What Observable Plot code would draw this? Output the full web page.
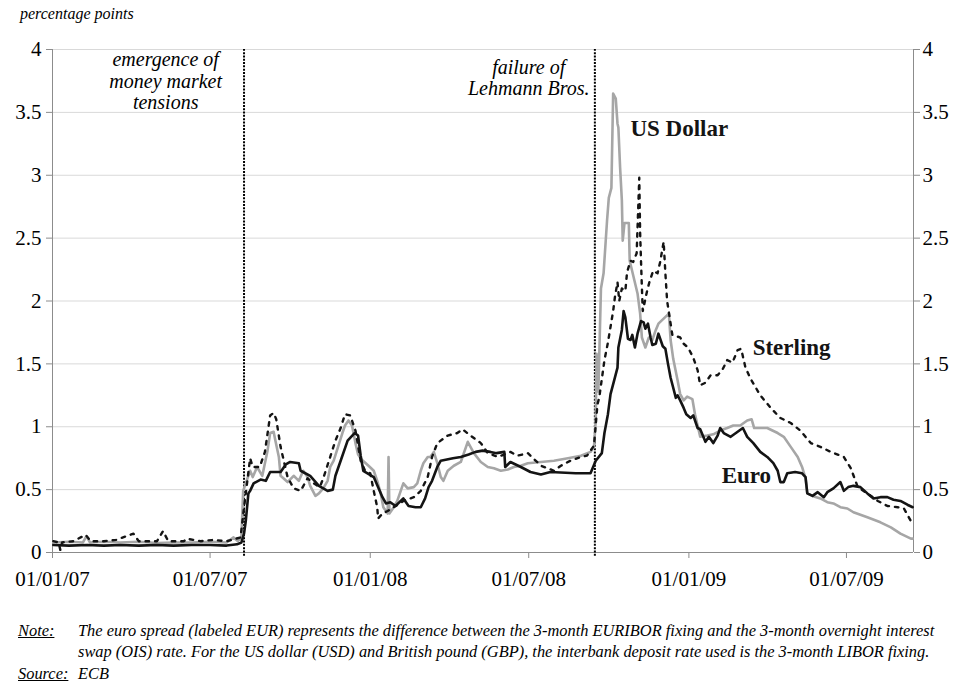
<!DOCTYPE html>
<html><head><meta charset="utf-8">
<script src="https://cdn.jsdelivr.net/npm/d3@7"></script>
<script src="https://cdn.jsdelivr.net/npm/@observablehq/plot@0.6"></script>
<style>
body{margin:0;background:#fff;font-family:"Liberation Serif",serif;}
#wrap{position:relative;width:957px;height:682px;overflow:hidden;}
#sub{position:absolute;left:20px;top:5px;font-style:italic;font-size:16px;}
#chart{position:absolute;left:0;top:0;}
#chart svg, #chart svg text{font-family:"Liberation Serif","Times New Roman",serif !important;}
.note{position:absolute;font-style:italic;font-size:16.4px;white-space:nowrap;}
.u{text-decoration:underline;}
</style></head>
<body>
<div id="wrap">
<div id="chart"></div>
<div id="sub">percentage points</div>
<div class="note u" style="left:18px;top:621px">Note:</div>
<div class="note" style="left:78px;top:621px">The euro spread (labeled EUR) represents the difference between the 3-month EURIBOR fixing and the 3-month overnight interest</div>
<div class="note" style="left:78px;top:642px">swap (OIS) rate. For the US dollar (USD) and British pound (GBP), the interbank deposit rate used is the 3-month LIBOR fixing.</div>
<div class="note u" style="left:18px;top:664px">Source:</div>
<div class="note" style="left:78px;top:664px">ECB</div>
</div>
<script>
const xStart = "2007-01-01", xEnd = "2009-09-16";
const xTicks = ["2007-01-01","2007-07-01","2008-01-01","2008-07-01","2009-01-01","2009-07-01"];
const yTicks = [0,0.5,1,1.5,2,2.5,3,3.5,4];
const gridLines = [0.5,1,1.5,2,2.5,3,3.5,4];
const eventDates = ["2007-08-09","2008-09-15"];
const eventTexts = ["emergence of\nmoney market\ntensions","failure of\nLehmann Bros."];
const eventTextDates = ["2007-05-11","2008-07-01"];
const eventTextY = [3.99, 3.93];
const labelNames = ["US Dollar","Sterling","Euro"];
const labelDates = ["2008-12-21","2009-04-29","2009-03-08"];
const labelY = [3.37,1.63,0.61];

const euro = [["2007-01-02",0.06],["2007-01-20",0.055],["2007-02-10",0.06],["2007-03-01",0.055],["2007-03-20",0.06],["2007-04-10",0.055],["2007-05-01",0.06],["2007-05-20",0.055],["2007-06-10",0.06],["2007-07-01",0.06],["2007-07-20",0.055],["2007-08-01",0.065],["2007-08-06",0.08],["2007-08-09",0.15],["2007-08-11",0.25],["2007-08-14",0.47],["2007-08-16",0.49],["2007-08-20",0.55],["2007-08-28",0.58],["2007-09-03",0.57],["2007-09-08",0.64],["2007-09-20",0.64],["2007-09-26",0.70],["2007-10-01",0.72],["2007-10-11",0.71],["2007-10-13",0.65],["2007-10-24",0.61],["2007-11-03",0.53],["2007-11-13",0.49],["2007-11-19",0.50],["2007-11-22",0.61],["2007-11-28",0.73],["2007-12-06",0.89],["2007-12-14",0.95],["2007-12-18",0.93],["2007-12-21",0.77],["2007-12-24",0.65],["2008-01-05",0.60],["2008-01-15",0.44],["2008-01-19",0.39],["2008-01-24",0.40],["2008-01-30",0.37],["2008-02-08",0.43],["2008-02-14",0.37],["2008-02-22",0.36],["2008-02-28",0.36],["2008-03-04",0.43],["2008-03-08",0.52],["2008-03-12",0.57],["2008-03-18",0.68],["2008-03-22",0.73],["2008-04-05",0.75],["2008-04-14",0.76],["2008-04-23",0.78],["2008-05-01",0.80],["2008-05-09",0.81],["2008-05-18",0.80],["2008-05-25",0.79],["2008-06-03",0.80],["2008-06-04",0.68],["2008-06-10",0.72],["2008-06-22",0.68],["2008-07-03",0.64],["2008-07-15",0.62],["2008-07-26",0.64],["2008-08-24",0.63],["2008-09-10",0.63],["2008-09-16",0.73],["2008-09-23",0.79],["2008-09-26",0.95],["2008-09-30",1.10],["2008-10-03",1.26],["2008-10-08",1.39],["2008-10-11",1.47],["2008-10-12",1.63],["2008-10-16",1.77],["2008-10-18",1.92],["2008-10-20",1.87],["2008-10-23",1.70],["2008-10-26",1.69],["2008-10-28",1.73],["2008-10-31",1.63],["2008-11-03",1.74],["2008-11-07",1.84],["2008-11-10",1.83],["2008-11-12",1.78],["2008-11-15",1.82],["2008-11-18",1.71],["2008-11-20",1.65],["2008-11-24",1.66],["2008-11-27",1.74],["2008-12-02",1.64],["2008-12-05",1.62],["2008-12-08",1.50],["2008-12-11",1.39],["2008-12-14",1.31],["2008-12-17",1.23],["2008-12-19",1.25],["2008-12-22",1.21],["2008-12-26",1.15],["2008-12-29",1.10],["2009-01-03",1.07],["2009-01-06",1.09],["2009-01-11",0.99],["2009-01-14",0.98],["2009-01-20",0.88],["2009-01-24",0.92],["2009-01-29",0.87],["2009-02-03",0.93],["2009-02-06",0.99],["2009-02-10",0.95],["2009-02-18",0.92],["2009-02-24",0.95],["2009-03-04",0.99],["2009-03-09",0.92],["2009-03-16",0.87],["2009-03-24",0.80],["2009-04-01",0.76],["2009-04-08",0.71],["2009-04-13",0.65],["2009-04-16",0.56],["2009-04-20",0.56],["2009-04-24",0.63],["2009-05-03",0.64],["2009-05-11",0.63],["2009-05-15",0.60],["2009-05-17",0.47],["2009-05-23",0.45],["2009-05-29",0.48],["2009-06-05",0.44],["2009-06-09",0.48],["2009-06-16",0.51],["2009-06-24",0.56],["2009-06-28",0.49],["2009-07-03",0.52],["2009-07-09",0.53],["2009-07-17",0.52],["2009-07-25",0.47],["2009-08-01",0.43],["2009-08-09",0.44],["2009-08-17",0.44],["2009-08-24",0.42],["2009-09-01",0.41],["2009-09-09",0.38],["2009-09-15",0.36]];

const usd = [["2007-01-02",0.08],["2007-01-20",0.085],["2007-02-05",0.08],["2007-02-09",0.13],["2007-02-13",0.08],["2007-03-01",0.085],["2007-03-20",0.08],["2007-04-10",0.085],["2007-05-01",0.075],["2007-05-20",0.08],["2007-06-10",0.08],["2007-07-01",0.085],["2007-07-20",0.08],["2007-07-28",0.12],["2007-08-02",0.09],["2007-08-06",0.12],["2007-08-08",0.49],["2007-08-16",0.65],["2007-08-19",0.60],["2007-08-24",0.68],["2007-08-30",0.61],["2007-09-05",0.81],["2007-09-08",0.95],["2007-09-12",0.96],["2007-09-14",0.89],["2007-09-18",0.76],["2007-09-20",0.61],["2007-09-28",0.56],["2007-10-05",0.61],["2007-10-11",0.57],["2007-10-16",0.65],["2007-10-21",0.60],["2007-10-24",0.53],["2007-10-30",0.45],["2007-11-03",0.47],["2007-11-08",0.51],["2007-11-13",0.57],["2007-11-16",0.68],["2007-11-20",0.73],["2007-11-25",0.84],["2007-11-30",0.95],["2007-12-03",1.01],["2007-12-07",1.05],["2007-12-11",1.01],["2007-12-15",0.87],["2007-12-18",0.78],["2007-12-22",0.74],["2007-12-30",0.69],["2008-01-05",0.65],["2008-01-09",0.57],["2008-01-13",0.47],["2008-01-16",0.36],["2008-01-21",0.31],["2008-01-22",0.76],["2008-01-23",0.31],["2008-01-28",0.36],["2008-02-01",0.41],["2008-02-05",0.49],["2008-02-08",0.55],["2008-02-13",0.51],["2008-02-20",0.52],["2008-02-24",0.55],["2008-02-28",0.65],["2008-03-02",0.71],["2008-03-07",0.76],["2008-03-10",0.76],["2008-03-14",0.80],["2008-03-18",0.71],["2008-03-22",0.60],["2008-03-25",0.57],["2008-03-30",0.65],["2008-04-06",0.69],["2008-04-14",0.72],["2008-04-22",0.88],["2008-04-29",0.79],["2008-05-07",0.72],["2008-05-15",0.68],["2008-05-22",0.67],["2008-05-30",0.65],["2008-06-07",0.66],["2008-06-14",0.68],["2008-06-22",0.69],["2008-06-30",0.71],["2008-07-15",0.72],["2008-07-30",0.73],["2008-08-15",0.75],["2008-08-30",0.77],["2008-09-10",0.80],["2008-09-14",0.84],["2008-09-16",1.05],["2008-09-17",1.58],["2008-09-19",1.28],["2008-09-22",2.10],["2008-09-25",2.22],["2008-09-29",2.64],["2008-10-01",2.82],["2008-10-04",2.90],["2008-10-06",3.65],["2008-10-09",3.61],["2008-10-11",3.41],["2008-10-12",3.38],["2008-10-14",3.06],["2008-10-16",2.80],["2008-10-17",2.48],["2008-10-19",2.62],["2008-10-24",2.62],["2008-10-25",2.32],["2008-11-03",2.06],["2008-11-06",1.90],["2008-11-08",1.71],["2008-11-12",1.63],["2008-11-16",1.71],["2008-11-20",1.69],["2008-11-24",1.77],["2008-11-27",1.82],["2008-12-03",1.86],["2008-12-09",1.90],["2008-12-11",1.69],["2008-12-14",1.54],["2008-12-19",1.37],["2008-12-22",1.26],["2008-12-26",1.21],["2008-12-30",1.24],["2009-01-05",1.22],["2009-01-08",1.10],["2009-01-12",0.98],["2009-01-14",0.92],["2009-01-22",0.93],["2009-01-29",0.94],["2009-02-06",0.97],["2009-02-14",0.99],["2009-02-21",1.01],["2009-03-01",1.01],["2009-03-09",1.05],["2009-03-14",1.06],["2009-03-17",0.99],["2009-04-01",0.99],["2009-04-13",0.95],["2009-04-20",0.92],["2009-04-28",0.84],["2009-05-06",0.76],["2009-05-11",0.68],["2009-05-15",0.59],["2009-05-17",0.47],["2009-05-23",0.45],["2009-06-01",0.43],["2009-06-09",0.40],["2009-06-16",0.39],["2009-06-24",0.36],["2009-07-02",0.35],["2009-07-09",0.32],["2009-07-25",0.28],["2009-08-09",0.24],["2009-08-21",0.20],["2009-09-01",0.15],["2009-09-13",0.11],["2009-09-15",0.11]];

const gbp = [["2007-01-02",0.09],["2007-01-08",0.08],["2007-01-10",0.02],["2007-01-12",0.08],["2007-01-25",0.09],["2007-02-08",0.14],["2007-02-14",0.09],["2007-03-01",0.09],["2007-03-15",0.10],["2007-04-04",0.15],["2007-04-10",0.09],["2007-05-01",0.09],["2007-05-08",0.17],["2007-05-14",0.09],["2007-06-01",0.09],["2007-06-04",0.11],["2007-06-20",0.09],["2007-07-05",0.10],["2007-07-20",0.09],["2007-08-05",0.12],["2007-08-08",0.30],["2007-08-16",0.75],["2007-08-19",0.68],["2007-08-27",0.68],["2007-09-02",0.80],["2007-09-08",1.09],["2007-09-12",1.11],["2007-09-15",1.06],["2007-09-20",0.84],["2007-09-28",0.60],["2007-10-05",0.51],["2007-10-13",0.49],["2007-10-21",0.59],["2007-10-28",0.55],["2007-11-04",0.52],["2007-11-08",0.59],["2007-11-16",0.76],["2007-11-22",0.89],["2007-11-28",0.99],["2007-12-03",1.10],["2007-12-09",1.09],["2007-12-15",0.97],["2007-12-21",0.73],["2007-12-26",0.65],["2008-01-01",0.63],["2008-01-05",0.49],["2008-01-09",0.36],["2008-01-10",0.27],["2008-01-15",0.31],["2008-01-21",0.33],["2008-01-28",0.36],["2008-02-08",0.41],["2008-02-20",0.44],["2008-02-28",0.49],["2008-03-07",0.60],["2008-03-12",0.76],["2008-03-18",0.87],["2008-03-30",0.93],["2008-04-10",0.95],["2008-04-16",0.98],["2008-04-25",0.93],["2008-05-07",0.87],["2008-05-15",0.79],["2008-05-27",0.76],["2008-06-10",0.80],["2008-06-18",0.77],["2008-06-30",0.79],["2008-07-15",0.69],["2008-07-30",0.65],["2008-08-07",0.69],["2008-08-18",0.73],["2008-08-30",0.76],["2008-09-06",0.77],["2008-09-14",0.85],["2008-09-18",1.18],["2008-09-20",1.23],["2008-09-26",1.53],["2008-09-30",1.67],["2008-10-06",1.92],["2008-10-08",2.03],["2008-10-11",2.15],["2008-10-13",2.00],["2008-10-16",2.10],["2008-10-20",2.08],["2008-10-22",2.23],["2008-10-26",2.32],["2008-10-29",2.31],["2008-11-02",2.38],["2008-11-05",2.98],["2008-11-06",2.54],["2008-11-07",2.32],["2008-11-08",2.11],["2008-11-09",1.92],["2008-11-14",2.08],["2008-11-17",2.16],["2008-11-21",2.24],["2008-11-26",2.22],["2008-11-29",2.31],["2008-12-03",2.47],["2008-12-05",2.22],["2008-12-07",2.00],["2008-12-13",1.73],["2008-12-22",1.71],["2008-12-26",1.66],["2008-12-31",1.63],["2009-01-06",1.55],["2009-01-11",1.45],["2009-01-14",1.33],["2009-01-20",1.35],["2009-01-26",1.41],["2009-02-03",1.41],["2009-02-09",1.46],["2009-02-14",1.53],["2009-02-20",1.51],["2009-02-26",1.61],["2009-03-02",1.62],["2009-03-07",1.47],["2009-03-13",1.38],["2009-03-24",1.25],["2009-04-05",1.15],["2009-04-16",1.07],["2009-04-28",1.03],["2009-05-09",0.97],["2009-05-21",0.87],["2009-06-01",0.84],["2009-06-13",0.80],["2009-06-28",0.76],["2009-07-06",0.67],["2009-07-14",0.52],["2009-07-25",0.47],["2009-08-06",0.41],["2009-08-17",0.37],["2009-08-29",0.36],["2009-09-05",0.35],["2009-09-13",0.25],["2009-09-15",0.24]];

const parse = d3.utcParse("%Y-%m-%d");
const rows = arr => arr.map(([d, v]) => ({date: parse(d), value: v}));
const events = eventDates.map((d, i) => ({date: parse(d), tdate: parse(eventTextDates[i]), text: eventTexts[i], y: eventTextY[i]}));
const labels = labelNames.map((n, i) => ({name: n, date: parse(labelDates[i]), y: labelY[i]}));
const serif = "Liberation Serif, Times New Roman, serif";

const chart = Plot.plot({
  width: 957, height: 600,
  marginLeft: 52, marginRight: 44, marginTop: 49, marginBottom: 48,
  style: {fontFamily: serif, fontSize: "21px", background: "white", color: "black"},
  x: {type: "utc", domain: [parse(xStart), parse(xEnd)]},
  y: {domain: [0, 4]},
  marks: [
    Plot.ruleY(gridLines, {stroke: "#d9d9d9", strokeWidth: 1}),
    Plot.ruleY([0], {stroke: "#8c8c8c", strokeWidth: 1}),
    Plot.ruleX([parse(xStart), parse(xEnd)], {stroke: "#8c8c8c", strokeWidth: 1}),
    Plot.axisY({anchor: "left", ticks: yTicks, tickSize: 6, tickPadding: 5, stroke: "#8c8c8c", label: null, tickFormat: d => String(d), fontFamily: serif}),
    Plot.axisY({anchor: "right", ticks: yTicks, tickSize: 6, tickPadding: 3, stroke: "#8c8c8c", label: null, tickFormat: d => String(d), fontFamily: serif}),
    Plot.axisX({ticks: xTicks.map(parse), tickFormat: d3.utcFormat("%d/%m/%y"), tickSize: 6, tickPadding: 13, stroke: "#8c8c8c", label: null, fontFamily: serif}),
    Plot.ruleX(events, {x: "date", y1: -0.03, y2: 4, stroke: "black", strokeWidth: 2, strokeDasharray: "2,1.3"}),
    Plot.line(rows(usd), {x: "date", y: "value", stroke: "#a6a6a6", strokeWidth: 2.6}),
    Plot.line(rows(euro), {x: "date", y: "value", stroke: "#141414", strokeWidth: 2.6}),
    Plot.line(rows(gbp), {x: "date", y: "value", stroke: "#141414", strokeWidth: 2.4, strokeDasharray: "3.5,6"}),
    Plot.text(events, {x: "tdate", y: "y", text: "text", lineAnchor: "top", textAnchor: "middle", fontStyle: "italic", fontSize: 20, lineHeight: 1.08, fontFamily: serif}),
    Plot.text(labels, {x: "date", y: "y", text: "name", fontWeight: "bold", fontSize: 23, fill: "#141414", fontFamily: serif})
  ]
});
document.getElementById("chart").appendChild(chart);
</script>
</body></html>
